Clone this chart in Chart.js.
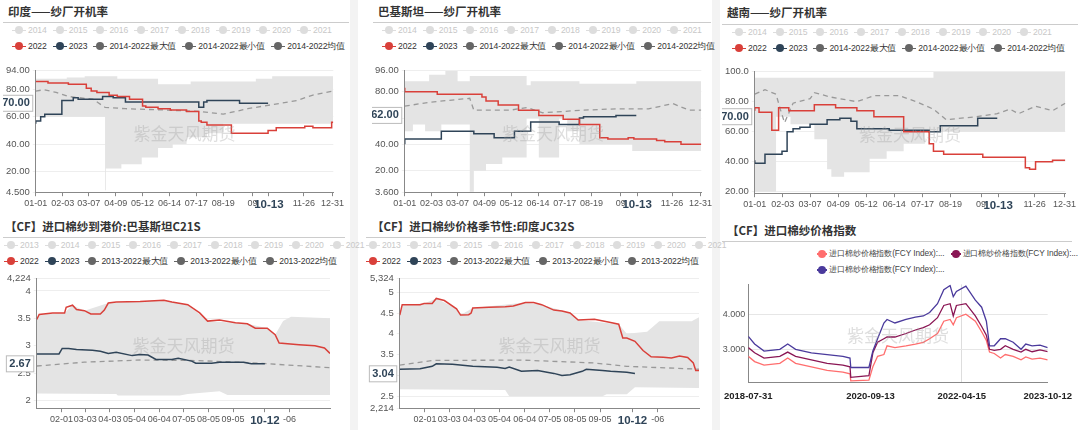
<!DOCTYPE html>
<html><head><meta charset="utf-8">
<script src="https://cdn.jsdelivr.net/npm/chart.js@4.4.0/dist/chart.umd.min.js"></script>
<style>
body{margin:0;width:1080px;height:430px;background:#fff;font-family:"Noto Sans CJK SC","Noto Sans",sans-serif;position:relative;overflow:hidden}
.t{position:absolute;font-weight:bold;font-size:11.5px;color:#333;font-family:"Noto Sans CJK SC",serif}
.hr{position:absolute;height:1px;background:#ccc}
.lg{position:absolute;font-size:8.6px;white-space:nowrap;font-family:"Liberation Sans",sans-serif;letter-spacing:-0.1px}
.lg span{display:inline-block;margin-right:6px}
.lg i{display:inline-block;width:14px;height:1.5px;vertical-align:middle;position:relative;margin-right:2px}
.lg i b{position:absolute;left:3px;top:-3.5px;width:8px;height:8px;border-radius:50%}
.c{position:absolute}
.vs{position:absolute;top:0;height:430px;width:8px;background:#f3f3f3}
</style></head><body>
<div class="vs" style="left:350px"></div><div class="vs" style="left:712px"></div>
<div id="root"></div>
<script>
// ---------- DATA ----------
const topXTicks=[0,33,65,98,131,164,197,230,266,286,329,364];
const topXLabels=["01-01","02-03","03-07","04-09","05-12","06-14","07-17","08-19","09","10-13","11-26","12-31"];
const botXTicks=[31,61,92,123,154,185,216,247,287,318];
const botXLabels=["02-01","03-03","04-03","05-04","06-04","07-05","08-05","09-05","10-12","-06"];
const yearsTop=["2014","2015","2016","2017","2018","2019","2020","2021"];
const yearsBot=["2013","2014","2015","2016","2017","2018","2019","2020","2021"];

const india2022=[[0,86],[15,86],[40,85],[62,84],[68,81],[75,79],[90,78],[100,76],[115,75],[131,73],[135,68],[150,67],[165,66],[185,65],[200,64],[203,57],[210,56],[240,54],[250,48],[285,48],[295,50],[305,52],[330,52],[340,53],[345,52],[363,52],[365,56]];
const india2023=[[0,55],[6,57],[11,60],[32,62],[46,72],[52,74],[82,73],[95,75],[110,74],[133,71],[200,71],[206,67],[210,71],[250,72],[262,70],[285,70]];
const indiaMax=[[0,92],[38,88],[60,89],[100,90],[150,88],[190,84],[270,86],[290,88],[305,90],[365,90]];
const indiaMin=[[0,60],[85,60],[86,6],[105,22],[130,25],[150,30],[168,37],[185,40],[210,45],[230,48],[258,55],[290,55],[330,55],[365,55]];
const indiaMean=[[0,79],[10,80],[25,78],[40,75],[70,73],[85,67],[110,66],[160,65],[200,64],[230,62],[260,66],[290,69],[320,72],[340,76],[365,79]];

const pak2022=[[0,83],[5,80],[40,80],[45,78],[95,78],[100,76],[115,73],[140,70],[165,66],[195,62],[215,59],[240,55],[250,45],[275,44],[282,45],[310,44],[320,43],[340,42],[355,40],[365,40]];
const pak2023=[[0,40],[12,44],[45,44],[47,50],[85,50],[87,48],[110,48],[115,45],[135,45],[140,50],[155,50],[160,57],[190,57],[195,55],[215,55],[220,60],[260,61],[265,62],[285,62]];
const pakMax=[[0,90],[30,88],[50,93],[65,96],[80,88],[150,92],[155,85],[215,88],[285,86],[310,88],[365,88]];
const pakMin=[[0,35],[10,50],[25,55],[45,50],[80,55],[85,4],[100,20],[120,25],[150,30],[165,60],[190,30],[200,60],[215,50],[280,40],[300,35],[365,35]];
const pakMean=[[0,69],[30,72],[80,75],[85,66],[130,66],[150,68],[170,64],[220,66],[260,67],[300,67],[330,71],[350,66],[365,66]];

const vn2022=[[0,74],[5,76],[20,73],[28,61],[40,76],[70,74],[95,78],[120,76],[140,74],[175,70],[205,60],[210,52],[222,47],[268,45],[318,43],[323,36],[330,35],[350,40],[360,41],[365,41]];
const vn2023=[[0,41],[12,39],[32,45],[38,47],[45,60],[53,62],[65,63],[85,65],[100,68],[113,69],[120,67],[158,62],[205,61],[218,60],[262,64],[270,69],[285,69]];
const vnMax=[[0,100],[210,96],[235,100],[365,100]];
const vnMin=[[0,70],[25,20],[42,70],[70,65],[85,55],[90,35],[105,30],[135,33],[155,42],[175,47],[200,52],[218,60],[365,60]];
const vnMean=[[0,85],[12,88],[25,85],[30,75],[35,66],[45,79],[65,82],[70,86],[90,83],[120,80],[140,84],[170,84],[190,80],[210,75],[225,68],[260,70],[285,72],[300,75],[310,72],[330,77],[350,74],[365,79]];

const c21_2022=[[0,3.48],[3,3.57],[20,3.6],[35,3.6],[37,3.7],[45,3.74],[50,3.66],[60,3.64],[68,3.58],[80,3.58],[85,3.65],[90,3.78],[100,3.8],[130,3.81],[160,3.83],[170,3.8],[190,3.75],[205,3.6],[215,3.45],[230,3.47],[250,3.42],[265,3.4],[275,3.32],[290,3.32],[300,3.2],[305,3.05],[330,3.02],[350,3.0],[362,2.96],[369,2.86]];
const c21_2023=[[0,2.85],[28,2.85],[32,2.95],[40,2.95],[50,2.93],[70,2.92],[80,2.9],[90,2.86],[100,2.88],[120,2.82],[130,2.84],[140,2.83],[150,2.75],[170,2.75],[178,2.77],[195,2.72],[200,2.68],[220,2.68],[230,2.7],[260,2.7],[270,2.67],[287,2.67]];
const c21Max=[[0,3.48],[3,3.57],[35,3.6],[45,3.74],[60,3.64],[90,3.78],[160,3.83],[190,3.75],[215,3.45],[265,3.4],[290,3.32],[300,3.2],[310,3.45],[320,3.53],[369,3.5]];
const c21Min=[[0,2.13],[100,2.12],[102,2.09],[180,2.09],[190,2.12],[230,2.17],[240,2.1],[369,2.1]];
const c21Mean=[[0,2.63],[60,2.7],[130,2.74],[200,2.73],[270,2.69],[369,2.6]];

const c32_2022=[[0,4.45],[3,4.7],[25,4.7],[30,4.73],[40,4.73],[45,4.85],[55,4.8],[70,4.6],[75,4.45],[85,4.46],[88,4.5],[90,4.62],[110,4.64],[130,4.65],[140,4.67],[155,4.75],[165,4.75],[175,4.7],[190,4.57],[200,4.55],[210,4.5],[220,4.33],[240,4.35],[260,4.27],[270,4.23],[275,3.9],[280,3.9],[290,3.82],[300,3.6],[310,3.45],[325,3.44],[335,3.42],[345,3.47],[355,3.43],[362,3.3],[365,3.12],[369,3.12]];
const c32_2023=[[0,3.15],[25,3.16],[40,3.22],[45,3.28],[65,3.27],[90,3.22],[120,3.2],[130,3.17],[135,3.2],[150,3.1],[170,3.12],[190,3.05],[200,3.0],[210,3.02],[225,3.1],[230,3.15],[250,3.12],[260,3.1],[280,3.08],[290,3.05]];
const c32Max=[[0,4.45],[3,4.7],[30,4.73],[45,4.85],[70,4.6],[75,4.45],[90,4.62],[155,4.75],[175,4.7],[210,4.5],[220,4.33],[270,4.23],[280,4.0],[305,4.05],[320,4.3],[360,4.3],[369,4.4]];
const c32Min=[[0,2.67],[130,2.65],[135,2.5],[250,2.5],[255,2.55],[280,2.55],[290,2.72],[369,2.7]];
const c32Mean=[[0,3.25],[40,3.36],[150,3.37],[240,3.3],[280,3.22],[369,3.15]];

const fcyTicks=[0,775,1354,1899];
const fcyLabels=["2018-07-31","2020-09-13","2022-04-15","2023-10-12"];
const fcyA=[[0,2.8],[40,2.65],[100,2.55],[200,2.6],[250,2.75],[300,2.6],[400,2.5],[500,2.4],[600,2.35],[645,2.3],[650,2.1],[765,2.12],[790,2.5],[820,2.8],[860,2.85],[880,3.1],[930,3.05],[1000,3.1],[1060,3.15],[1110,3.2],[1150,3.3],[1200,3.45],[1240,3.8],[1280,3.85],[1300,3.7],[1320,3.9],[1380,4.0],[1440,3.8],[1480,3.5],[1510,3.25],[1530,2.92],[1560,2.88],[1600,2.75],[1630,2.85],[1680,2.8],[1730,2.7],[1760,2.78],[1800,2.72],[1850,2.75],[1899,2.7]];
const fcyB=[[0,3.05],[40,2.9],[100,2.75],[200,2.8],[250,2.92],[300,2.8],[400,2.7],[500,2.6],[600,2.55],[645,2.5],[650,2.2],[765,2.25],[790,2.9],[820,3.2],[860,3.3],[880,3.35],[930,3.35],[1000,3.45],[1060,3.55],[1110,3.62],[1150,3.7],[1200,3.9],[1240,4.25],[1280,4.3],[1300,3.95],[1320,4.25],[1380,4.3],[1440,3.95],[1480,3.65],[1510,3.4],[1530,3.0],[1560,2.97],[1600,3.0],[1630,3.1],[1680,3.0],[1730,2.92],[1760,3.0],[1800,2.93],[1850,2.98],[1899,2.93]];
const fcyC=[[0,3.37],[40,3.15],[100,2.95],[200,3.0],[250,3.15],[300,3.0],[400,2.9],[500,2.85],[600,2.8],[645,2.75],[650,2.48],[765,2.48],[790,2.95],[820,3.3],[860,3.75],[880,3.85],[930,3.75],[1000,3.85],[1060,3.92],[1110,3.95],[1150,4.05],[1200,4.3],[1240,4.7],[1280,4.82],[1300,4.5],[1320,4.65],[1380,4.8],[1440,4.4],[1480,4.2],[1510,3.8],[1530,3.1],[1560,3.1],[1600,3.3],[1630,3.3],[1680,3.2],[1730,3.0],[1760,3.15],[1800,3.1],[1850,3.12],[1899,3.05]];

// ---------- RENDER ----------
const RED='#d9403a',BLUE='#2f4458',GRAYF='#e4e4e4';
const root=document.getElementById('root');
function add(html){root.insertAdjacentHTML('beforeend',html);}
function xy(a){return a.map(p=>({x:p[0],y:p[1]}));}
function legendRows(x,y,years,range){
  let r1=years.map(t=>`<span style="color:#c8c8c8"><i style="background:#ddd"><b style="background:#ddd"></b></i>${t}</span>`).join('');
  const items=[["2022",RED],["2023",BLUE],[range+"最大值","#666"],[range+"最小值","#666"],[range+"均值","#666"]];
  let r2=items.map(t=>`<span style="color:#333"><i style="background:${t[1]}"><b style="background:${t[1]}"></b></i>${t[0]}</span>`).join('');
  add(`<div class="lg" style="left:${x}px;top:${y}px">${r1}</div><div class="lg" style="left:${x}px;top:${y+16}px">${r2}</div>`);
}
const deco={id:'deco',afterDatasetsDraw(ch,a,o){
  const c=ch.ctx,ca=ch.chartArea;
  c.save();c.font='17px "Noto Sans CJK SC"';c.fillStyle='rgba(160,160,160,0.35)';c.textAlign='center';c.textBaseline='middle';
  c.fillText('紫金天风期货',(ca.left+ca.right)/2,(ca.top+ca.bottom)/2+2);
  if(o.mark!=null){const y=ch.scales.y.getPixelForValue(o.mark);c.font='bold 11px "Liberation Sans"';
    const w=c.measureText(o.markText).width+6;c.fillStyle='#fff';c.strokeStyle='#bbb';
    c.fillRect(ca.left-w-3,y-8,w,16);c.strokeRect(ca.left-w-3,y-8,w,16);c.fillStyle=BLUE;c.textAlign='center';c.fillText(o.markText,ca.left-3-w/2,y);}
  c.restore();}};
function seasonal(id,box,d,opt){
  add(`<canvas class="c" id="${id}" style="left:${box[0]}px;top:${box[1]}px;width:${box[2]}px;height:${box[3]}px"></canvas>`);
  const cv=document.getElementById(id);cv.width=box[2];cv.height=box[3];
  const ln=(a,col,ex)=>Object.assign({data:xy(a),borderColor:col,borderWidth:1.5,pointRadius:0,stepped:opt.stepped,fill:false},ex||{});
  new Chart(cv,{type:'line',data:{datasets:[
    ln(d[0],RED),ln(d[1],BLUE),
    ln(d[4],'#999',{borderDash:[5,4],borderWidth:1.3,stepped:false}),
    ln(d[2],'rgba(0,0,0,0)',{fill:'+1',backgroundColor:GRAYF,borderWidth:0}),
    ln(d[3],'rgba(0,0,0,0)',{borderWidth:0})]},
   options:{responsive:false,animation:false,layout:{padding:{left:opt.padL||0,right:6,top:4}},
    plugins:{legend:{display:false},tooltip:{enabled:false},deco:{mark:opt.mark,markText:opt.markText}},
    scales:{
     x:{type:'linear',min:0,max:opt.xmax,afterBuildTicks:ax=>{ax.ticks=opt.xt.map(v=>({value:v}));},
        grid:{drawOnChartArea:false,tickLength:4,color:'#888'},border:{color:'#888'},
        ticks:{autoSkip:false,maxRotation:0,padding:2,color:c=>c.tick&&c.tick.value===opt.bold?BLUE:'#555',
          font:c=>c.tick&&c.tick.value===opt.bold?{size:11.5,weight:'bold',family:'Liberation Sans'}:{size:9,family:'Liberation Sans'},
          callback:v=>{const i=opt.xt.indexOf(v);return i<0?'':opt.xl[i];}}},
     y:{min:opt.ymin,max:opt.ymax,afterBuildTicks:ax=>{ax.ticks=opt.yt.map(v=>({value:v}));},
        grid:{color:'#eee',tickLength:3},border:{color:'#888'},
        ticks:{color:'#555',font:{size:9.5,family:'Liberation Sans'},callback:v=>opt.yf(v)}}}},
   plugins:[deco]});
}
const f2=v=>v<10?v.toFixed(3):(v>=100?v.toFixed(1):v.toFixed(2));
// titles
add(`<div class="t" style="left:8px;top:3px">印度——纱厂开机率</div><div class="hr" style="left:3px;top:22px;width:346px"></div>`);
add(`<div class="t" style="left:378px;top:3px">巴基斯坦——纱厂开机率</div><div class="hr" style="left:373px;top:22px;width:338px"></div>`);
add(`<div class="t" style="left:727px;top:4px">越南——纱厂开机率</div><div class="hr" style="left:722px;top:24px;width:356px"></div>`);
add(`<div class="t" style="left:5px;top:218px">【CF】进口棉纱到港价:巴基斯坦C21S</div><div class="hr" style="left:3px;top:237px;width:342px"></div>`);
add(`<div class="t" style="left:372px;top:218px">【CF】进口棉纱价格季节性:印度JC32S</div><div class="hr" style="left:366px;top:237px;width:340px"></div>`);
add(`<div class="t" style="left:727px;top:222px">【CF】进口棉纱价格指数</div><div class="hr" style="left:722px;top:241px;width:350px"></div>`);
legendRows(12,25,yearsTop,"2014-2022");
legendRows(382,25,yearsTop,"2014-2022");
legendRows(732,27,yearsTop,"2014-2022");
legendRows(4,240,yearsBot,"2013-2022");
legendRows(366,240,yearsBot,"2013-2022");

seasonal('c1',[3,62,343,152],[india2022,india2023,indiaMax,indiaMin,indiaMean],{stepped:'after',xmax:365,xt:topXTicks,xl:topXLabels,bold:286,ymin:4.5,ymax:94,yt:[4.5,20,40,60,80,94],yf:f2,mark:70,markText:'70.00'});
seasonal('c2',[372,62,342,152],[pak2022,pak2023,pakMax,pakMin,pakMean],{stepped:'after',xmax:365,xt:topXTicks,xl:topXLabels,bold:286,ymin:3.6,ymax:96,yt:[3.6,20,40,60,80,96],yf:f2,mark:62,markText:'62.00'});
seasonal('c3',[722,63,356,152],[vn2022,vn2023,vnMax,vnMin,vnMean],{stepped:'after',xmax:365,xt:topXTicks,xl:topXLabels,bold:286,ymin:19,ymax:100,yt:[20,40,60,80,100],yf:f2,mark:70,markText:'70.00'});
const fb=v=>v===4.224||v===2.214||v===5.324?v.toFixed(3).replace('.',','):String(v);
seasonal('c4',[0,270,336,160],[c21_2022,c21_2023,c21Max,c21Min,c21Mean],{stepped:false,xmax:369,xt:botXTicks,xl:botXLabels,bold:287,ymin:1.86,ymax:4.224,yt:[2,2.5,3,3.5,4,4.224],yf:fb,mark:2.67,markText:'2.67',padL:4});
seasonal('c5',[363,270,342,160],[c32_2022,c32_2023,c32Max,c32Min,c32Mean],{stepped:false,xmax:369,xt:botXTicks,xl:botXLabels,bold:287,ymin:2.214,ymax:5.324,yt:[2.214,2.5,3,3.5,4,4.5,5,5.324],yf:fb,mark:3.04,markText:'3.04',padL:4});

// FCY legend
const fcyCols=['#ff6e6e','#8a1654','#4a3a9c'];
add(`<div class="lg" style="left:817px;top:248px;color:#444;font-size:8.3px"><span><i style="background:${fcyCols[0]};width:10px"><b style="background:${fcyCols[0]};left:1px"></b></i>进口棉纱价格指数(FCY Index):...</span><span><i style="background:${fcyCols[1]};width:10px"><b style="background:${fcyCols[1]};left:1px"></b></i>进口棉纱价格指数(FCY Index):...</span></div>`);
add(`<div class="lg" style="left:817px;top:264px;color:#444;font-size:8.3px"><span><i style="background:${fcyCols[2]};width:10px"><b style="background:${fcyCols[2]};left:1px"></b></i>进口棉纱价格指数(FCY Index):...</span></div>`);
add(`<canvas class="c" id="c6" style="left:716px;top:276px;width:364px;height:134px"></canvas>`);
(function(){const cv=document.getElementById('c6');cv.width=364;cv.height=134;
 const l=(a,c)=>({data:xy(a),borderColor:c,borderWidth:1.3,pointRadius:0,fill:false});
 new Chart(cv,{type:'line',data:{datasets:[l(fcyC,fcyCols[2]),l(fcyB,fcyCols[1]),l(fcyA,fcyCols[0])]},
  options:{responsive:false,animation:false,layout:{padding:{right:14}},plugins:{legend:{display:false},tooltip:{enabled:false},deco:{}},
   scales:{x:{type:'linear',min:0,max:1899,afterBuildTicks:ax=>{ax.ticks=fcyTicks.map(v=>({value:v}));},
     grid:{color:c=>c.tick&&(c.tick.value===1354)?'#ddd':'rgba(0,0,0,0)',tickLength:0},border:{color:'#888'},
     ticks:{autoSkip:false,maxRotation:0,padding:8,color:'#222',font:{size:9.5,weight:'bold',family:'Liberation Sans'},callback:v=>fcyLabels[fcyTicks.indexOf(v)]}},
    y:{min:2.05,max:4.85,afterBuildTicks:ax=>{ax.ticks=[3,4].map(v=>({value:v}));},grid:{color:'#e6e6e6',tickLength:0},border:{color:'#888'},
     ticks:{color:'#555',font:{size:9,family:'Liberation Sans'},callback:v=>v.toFixed(3)}}}},plugins:[deco]});})();
</script></body></html>
